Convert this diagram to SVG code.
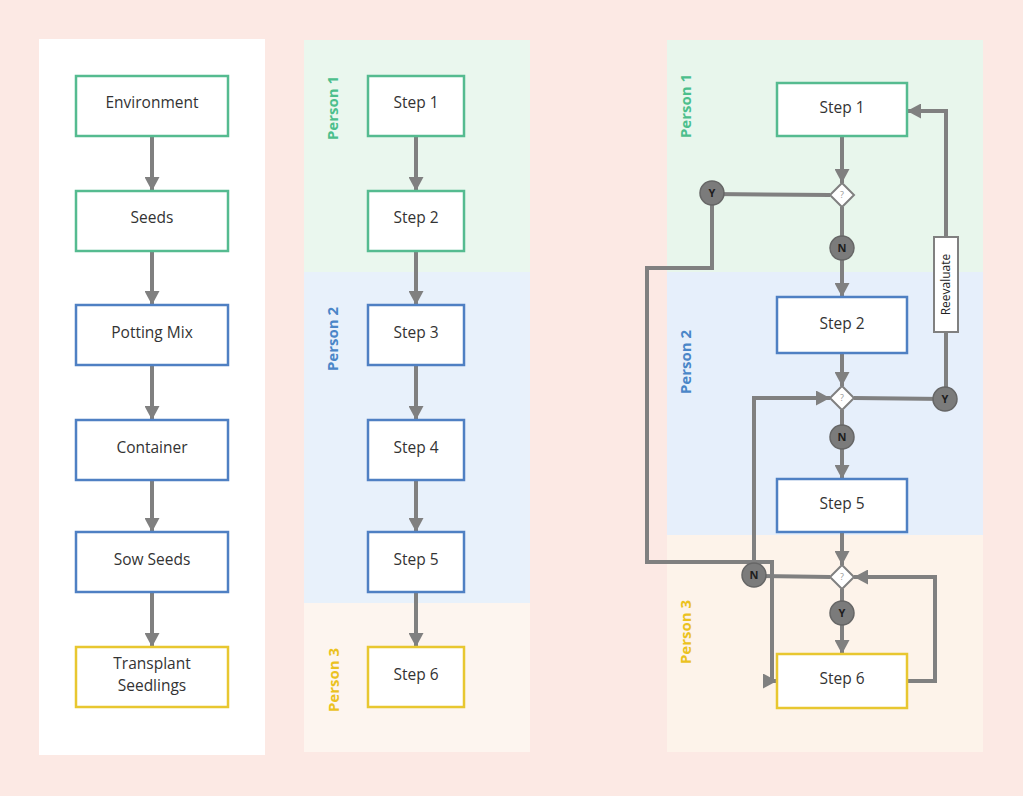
<svg xmlns="http://www.w3.org/2000/svg" width="1023" height="796" viewBox="0 0 1023 796">
<defs>
<marker id="arr" markerUnits="userSpaceOnUse" markerWidth="15" markerHeight="15" refX="14" refY="7.5" orient="auto">
<path d="M0,0 L14,7.5 L0,15 z" fill="#808080"/>
</marker>
<style>
.g{fill:#fff;stroke:#55bb90;stroke-width:2.5}
.b{fill:#fff;stroke:#4f80c3;stroke-width:2.5}
.y{fill:#fff;stroke:#e8c730;stroke-width:2.5}
.t{font-family:"Open Sans","Liberation Sans",sans-serif;font-size:15.5px;fill:#333;text-anchor:middle}
.p{font-family:"Open Sans","Liberation Sans",sans-serif;font-size:15px;font-weight:bold;text-anchor:middle}
.c{fill:none;stroke:#808080;stroke-width:4}
.ca{fill:none;stroke:#808080;stroke-width:4;marker-end:url(#arr)}
.dm{fill:#fff;stroke:#808080;stroke-width:2}
.q{font-family:"Open Sans","Liberation Sans",sans-serif;font-size:9px;fill:#999;text-anchor:middle}
.cir{fill:#7b7b7b;stroke:#666;stroke-width:1.5}
.cl{font-family:"Open Sans","Liberation Sans",sans-serif;font-size:11px;font-weight:bold;fill:#1e1e1e;text-anchor:middle}
</style>
</defs>
<rect width="1023" height="796" fill="#fce9e4"/>

<g id="panels">
<rect x="39" y="39" width="226" height="716" fill="#ffffff"/>
<rect x="304" y="40" width="226" height="232" fill="#eaf7ee"/>
<rect x="304" y="272" width="226" height="331" fill="#e8f1fb"/>
<rect x="304" y="603" width="226" height="149" fill="#fdf5ef"/>
<rect x="667" y="40" width="316" height="232" fill="#e8f6ec"/>
<rect x="667" y="272" width="316" height="263" fill="#e6effb"/>
<rect x="667" y="535" width="316" height="217" fill="#fdf3ea"/>
</g>

<g id="lane-labels">
<text class="p" fill="#4cbf8c" transform="translate(338,108) rotate(-90)">Person 1</text>
<text class="p" fill="#4a86c8" transform="translate(338,339) rotate(-90)">Person 2</text>
<text class="p" fill="#ebc21f" transform="translate(339,680) rotate(-90)">Person 3</text>
<text class="p" fill="#4cbf8c" transform="translate(691,106) rotate(-90)">Person 1</text>
<text class="p" fill="#4a86c8" transform="translate(691,362) rotate(-90)">Person 2</text>
<text class="p" fill="#ebc21f" transform="translate(691,632) rotate(-90)">Person 3</text>
</g>

<g id="connectors">
<line class="ca" x1="152" y1="136" x2="152" y2="191"/>
<line class="ca" x1="152" y1="251" x2="152" y2="305"/>
<line class="ca" x1="152" y1="365" x2="152" y2="420"/>
<line class="ca" x1="152" y1="480" x2="152" y2="532"/>
<line class="ca" x1="152" y1="592" x2="152" y2="647"/>

<line class="ca" x1="416" y1="136" x2="416" y2="191"/>
<line class="ca" x1="416" y1="251" x2="416" y2="305"/>
<line class="ca" x1="416" y1="365" x2="416" y2="420"/>
<line class="ca" x1="416" y1="480" x2="416" y2="532"/>
<line class="ca" x1="416" y1="592" x2="416" y2="647"/>

<line class="ca" x1="842" y1="136" x2="842" y2="183"/>
<line class="c" x1="830" y1="195" x2="712" y2="194"/>
<path class="ca" d="M712,194 V268 H647 V562 H772 V681 H777"/>
<line class="ca" x1="842" y1="207" x2="842" y2="297"/>
<path class="ca" d="M946,399 V111 H907"/>
<line class="ca" x1="842" y1="353" x2="842" y2="386"/>
<line class="c" x1="854" y1="398" x2="945" y2="399"/>
<line class="ca" x1="842" y1="410" x2="842" y2="479"/>
<path class="ca" d="M754,576 V398 H830"/>
<line class="ca" x1="842" y1="532" x2="842" y2="565"/>
<line class="c" x1="830" y1="577" x2="754" y2="576"/>
<line class="ca" x1="842" y1="589" x2="842" y2="654"/>
<path class="ca" d="M907,681 H935 V577 H854"/>
</g>

<g id="environment"><rect class="g" x="76" y="76" width="152" height="60"/><text class="t" x="152" y="108">Environment</text></g>
<g id="seeds"><rect class="g" x="76" y="191" width="152" height="60"/><text class="t" x="152" y="223">Seeds</text></g>
<g id="potting-mix"><rect class="b" x="76" y="305" width="152" height="60"/><text class="t" x="152" y="338">Potting Mix</text></g>
<g id="container"><rect class="b" x="76" y="420" width="152" height="60"/><text class="t" x="152" y="453">Container</text></g>
<g id="sow-seeds"><rect class="b" x="76" y="532" width="152" height="60"/><text class="t" x="152" y="565">Sow Seeds</text></g>
<g id="transplant"><rect class="y" x="76" y="647" width="152" height="60"/><text class="t" x="152" y="669">Transplant</text><text class="t" x="152" y="691">Seedlings</text></g>

<g id="p2-step1"><rect class="g" x="368" y="76" width="96" height="60"/><text class="t" x="416" y="108">Step 1</text></g>
<g id="p2-step2"><rect class="g" x="368" y="191" width="96" height="60"/><text class="t" x="416" y="223">Step 2</text></g>
<g id="p2-step3"><rect class="b" x="368" y="305" width="96" height="60"/><text class="t" x="416" y="338">Step 3</text></g>
<g id="p2-step4"><rect class="b" x="368" y="420" width="96" height="60"/><text class="t" x="416" y="453">Step 4</text></g>
<g id="p2-step5"><rect class="b" x="368" y="532" width="96" height="60"/><text class="t" x="416" y="565">Step 5</text></g>
<g id="p2-step6"><rect class="y" x="368" y="647" width="96" height="60"/><text class="t" x="416" y="680">Step 6</text></g>

<g id="p3-step1"><rect class="g" x="777" y="83" width="130" height="53"/><text class="t" x="842" y="113">Step 1</text></g>
<g id="p3-step2"><rect class="b" x="777" y="297" width="130" height="56"/><text class="t" x="842" y="329">Step 2</text></g>
<g id="p3-step5"><rect class="b" x="777" y="479" width="130" height="53"/><text class="t" x="842" y="509">Step 5</text></g>
<g id="p3-step6"><rect class="y" x="777" y="654" width="130" height="54"/><text class="t" x="842" y="684">Step 6</text></g>

<g id="decision1"><path class="dm" d="M842,183 L854,195 L842,207 L830,195 z"/><text class="q" x="842" y="198">?</text></g>
<g id="decision2"><path class="dm" d="M842,386 L854,398 L842,410 L830,398 z"/><text class="q" x="842" y="401">?</text></g>
<g id="decision3"><path class="dm" d="M842,565 L854,577 L842,589 L830,577 z"/><text class="q" x="842" y="580">?</text></g>

<g id="y1"><circle class="cir" cx="712" cy="193" r="12"/><text class="cl" x="712" y="197">Y</text></g>
<g id="n1"><circle class="cir" cx="842" cy="248" r="12"/><text class="cl" x="842" y="252">N</text></g>
<g id="y2"><circle class="cir" cx="945" cy="399" r="12"/><text class="cl" x="945" y="403">Y</text></g>
<g id="n2"><circle class="cir" cx="842" cy="437" r="12"/><text class="cl" x="842" y="441">N</text></g>
<g id="n3"><circle class="cir" cx="754" cy="575" r="12"/><text class="cl" x="754" y="579">N</text></g>
<g id="y3"><circle class="cir" cx="842" cy="613" r="12"/><text class="cl" x="842" y="617">Y</text></g>

<g id="reevaluate"><rect x="934" y="237" width="24" height="95" fill="#fff" stroke="#808080" stroke-width="2"/><text font-family="'Open Sans','Liberation Sans',sans-serif" font-size="12" fill="#222" text-anchor="middle" transform="translate(950,284.5) rotate(-90)">Reevaluate</text></g>
</svg>
